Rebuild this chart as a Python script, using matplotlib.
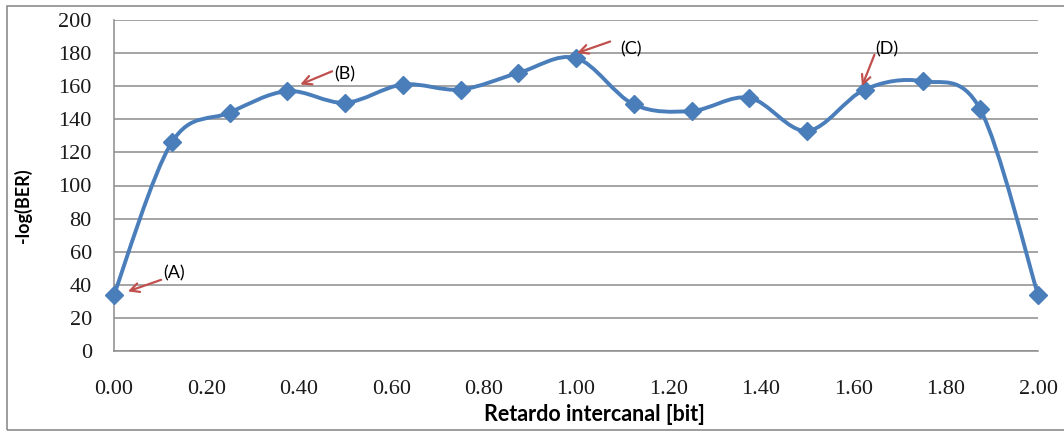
import matplotlib.pyplot as plt
import numpy as np
from matplotlib.path import Path
from matplotlib.patches import PathPatch, Rectangle


# delay between channels [bit] and -log(BER)
retardo = [0.0, 0.125, 0.25, 0.375, 0.5, 0.625, 0.75, 0.875, 1.0,
           1.125, 1.25, 1.375, 1.5, 1.625, 1.75, 1.875, 2.0]
log_ber = [34, 126, 144, 157, 150, 161, 158, 168, 177,
           149, 145, 153, 133, 158, 163, 146, 34]

x_ticks = [0.0, 0.2, 0.4, 0.6, 0.8, 1.0, 1.2, 1.4, 1.6, 1.8, 2.0]
y_ticks = [0, 20, 40, 60, 80, 100, 120, 140, 160, 180, 200]

# annotations: label, arrow head (x, y), arrow tail (x, y), text position (x, y)
notas = [
    ("(A)", (0.030, 36), (0.102, 43), (0.106, 47)),
    ("(B)", (0.403, 161), (0.472, 169), (0.476, 167)),
    ("(C)", (1.002, 180), (1.074, 187), (1.095, 182)),
    ("(D)", (1.619, 160), (1.646, 179), (1.647, 182)),
]

LINE_COLOR = "#4a7ebb"
ARROW_COLOR = "#c0504d"
GRID_COLOR = "#8c8c8c"


def smooth_path(xs, ys):
    # Excel-style smoothed line: cubic Bezier segments (Catmull-Rom control points)
    pts = np.column_stack([xs, ys]).astype(float)
    n = len(pts)
    verts = [pts[0]]
    codes = [Path.MOVETO]
    for i in range(n - 1):
        p0 = pts[i - 1] if i > 0 else pts[i]
        p1 = pts[i]
        p2 = pts[i + 1]
        p3 = pts[i + 2] if i + 2 < n else pts[i + 1]
        c1 = p1 + (p2 - p0) / 6.0
        c2 = p2 - (p3 - p1) / 6.0
        verts += [c1, c2, p2]
        codes += [Path.CURVE4] * 3
    return Path(verts, codes)


def main():
    fig = plt.figure(figsize=(10.64, 4.32), dpi=100)
    ax = fig.add_axes([114 / 1064, 1 - 351 / 432, 924 / 1064, 331 / 432])

    # outer chart border
    fig.patches.append(Rectangle((7 / 1064, 2 / 432), 1.0, 424 / 432,
                                 transform=fig.transFigure, fill=False,
                                 edgecolor=GRID_COLOR, linewidth=1.2))

    ax.add_patch(PathPatch(smooth_path(retardo, log_ber), facecolor="none",
                           edgecolor=LINE_COLOR, linewidth=2.8,
                           capstyle="round", joinstyle="round",
                           zorder=3, clip_on=False))
    ax.plot(retardo, log_ber, linestyle="none", marker="D", markersize=9,
            color=LINE_COLOR, zorder=4, clip_on=False)

    for label, head, tail, txt in notas:
        ax.annotate("", xy=head, xytext=tail,
                    arrowprops=dict(arrowstyle="->", color=ARROW_COLOR,
                                    lw=1.6, mutation_scale=16,
                                    shrinkA=0, shrinkB=0), zorder=5)
        ax.text(txt[0], txt[1], label, fontsize=13, family="Lato",
                va="center", ha="left", zorder=5)

    ax.set_xlim(0, 2)
    ax.set_ylim(0, 200)
    ax.set_xticks(x_ticks)
    ax.set_xticklabels([f"{v:.2f}" for v in x_ticks],
                       family="Liberation Serif", fontsize=16)
    ax.set_yticks(y_ticks)
    ax.set_yticklabels([str(v) for v in y_ticks],
                       family="Liberation Serif", fontsize=16)
    ax.tick_params(axis="both", length=0, labelcolor="#1a1a1a")
    ax.tick_params(axis="x", pad=21)
    ax.tick_params(axis="y", pad=16)

    ax.yaxis.grid(True, color=GRID_COLOR, linewidth=1.1)
    ax.set_axisbelow(True)
    for side in ("top", "right"):
        ax.spines[side].set_visible(False)
    for side in ("left", "bottom"):
        ax.spines[side].set_color(GRID_COLOR)
        ax.spines[side].set_linewidth(1.1)

    ax.set_xlabel("Retardo intercanal [bit]", family="Lato", fontweight="bold",
                  fontsize=15.5)
    ax.xaxis.set_label_coords(0.5 + 18 / 924, -53 / 331)
    ax.set_ylabel("-log(BER)", family="Lato", fontweight="bold", fontsize=13)
    ax.yaxis.set_label_coords(-82 / 924, 0.44)

    fig.savefig("out.png", dpi=100)


if __name__ == "__main__":
    main()
